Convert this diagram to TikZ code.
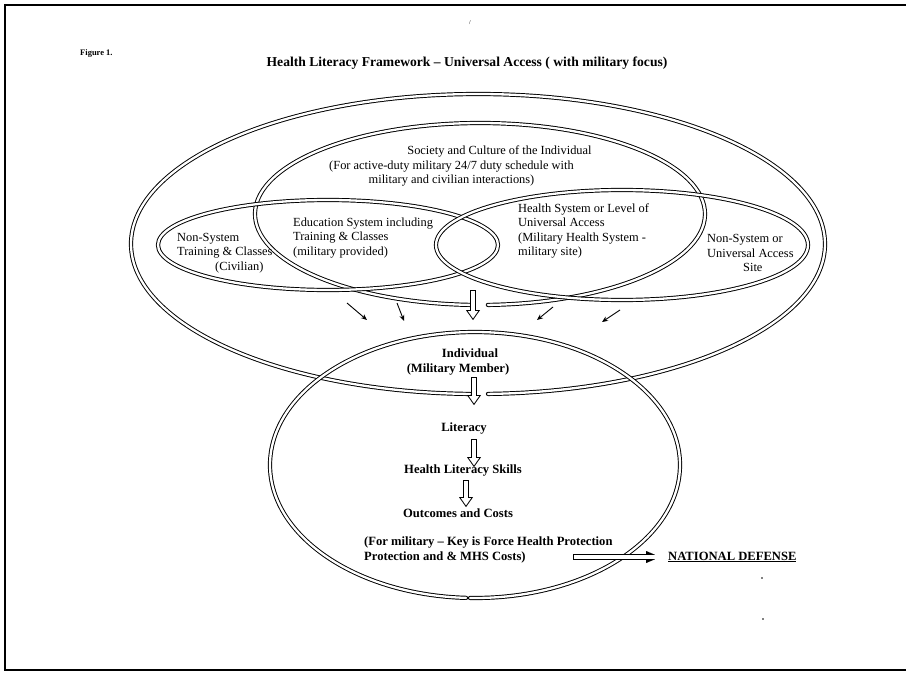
\documentclass[tikz,border=0pt]{standalone}
\usepackage{fontspec}
\setmainfont{Liberation Serif}
\usetikzlibrary{arrows.meta,calc}
\tikzset{
  dbl/.style={draw=black, line width=0.95pt, double=white, double distance=2.3pt},
  dblgap/.style={dbl, line cap=round},
  txt/.style={font=\fontsize{12.4}{14.5}\selectfont, inner sep=0pt, align=left},
  btxt/.style={font=\bfseries\fontsize{12.6}{15}\selectfont, inner sep=0pt},
  hollow/.style={line width=6pt, -{Triangle[length=10pt,width=14pt,line width=0.01pt]},
    postaction={draw=white, line width=4pt, -{Triangle[length=7.26pt,width=10.2pt,line width=0.01pt]}, shorten >=1.74pt, shorten <=1pt}},
  hollowh/.style={line width=6pt, -{Triangle[length=14pt,width=12pt,line width=0.01pt]},
    postaction={draw=white, line width=4pt, -{Triangle[length=10.46pt,width=8.97pt,line width=0.01pt]}, shorten >=2.54pt, shorten <=1pt}},
  thin/.style={line width=0.9pt, -{Stealth[length=6pt,width=5pt]}},
  frameline/.style={line width=1.6pt}
}
\begin{document}
\begin{tikzpicture}[x=1pt,y=1pt]
\useasboundingbox (0,0) rectangle (906,-677);
% frame
\draw[frameline, line width=2.4pt] (4,-5) -- (910,-5);
\draw[frameline] (5,-4) -- (5,-671);
\draw[frameline] (4,-670) -- (910,-670);
% scanning marks
\node[font=\fontsize{6}{6}\selectfont, inner sep=0pt] (mark) at (470,-23) {/};
\fill (762,-578) circle (0.8pt);
\fill (763,-619) circle (0.8pt);
% centres of ellipses
\coordinate (cA) at (478,-244);
\coordinate (cB) at (480,-214);
\coordinate (cC) at (328,-245);
\coordinate (cD) at (622,-245);
\coordinate (cE) at (475,-465);
% outer ellipse with gap
\draw[dblgap] ($(cA)+(271.65:347 and 150)$) arc[start angle=271.65, end angle=628.7, x radius=347, y radius=150];
% society ellipse with gap
\draw[dblgap] ($(cB)+(272.0:225 and 91)$) arc[start angle=272.0, end angle=627.45, x radius=225, y radius=91];
% left ellipse
\draw[dbl] (cC) ellipse[x radius=170, y radius=45];
% right ellipse
\draw[dbl] (cD) ellipse[x radius=186, y radius=55];
% individual ellipse with gap
\draw[dblgap] ($(cE)+(268.6:205 and 133)$) arc[start angle=268.6, end angle=627.5, x radius=205, y radius=133];
% texts
\node[font=\bfseries\fontsize{8.5}{10}\selectfont, inner sep=0pt, anchor=west] (fig) at (80,-53) {Figure 1.};
\node[font=\bfseries\fontsize{13.6}{15}\selectfont, inner sep=0pt] (title) at (467,-63) {Health Literacy Framework – Universal Access ( with military focus)};
\node[txt, align=center] (soc) at (451.5,-166) {\hspace*{96pt}Society and Culture of the Individual\\(For active-duty military 24/7 duty schedule with\\military and civilian interactions)};
\node[txt, anchor=west] (nsl) at (177,-253) {Non-System\\Training \& Classes\\\hspace*{38pt}(Civilian)};
\node[txt, anchor=west] (edu) at (293,-238) {Education System including\\Training \& Classes\\(military provided)};
\node[txt, anchor=west] (hs) at (518,-231) {Health System or Level of\\Universal Access\\(Military Health System -\\military site)};
\node[txt, anchor=west] (nsr) at (707,-253) {Non-System or\\Universal Access\\\hspace*{36pt}Site};
\node[btxt, align=center] (ind) at (458,-362) {\hspace*{24pt}Individual\\(Military Member)};
\node[btxt] (lit) at (464,-428) {Literacy};
\node[btxt] (hls) at (463,-470) {Health Literacy Skills};
\node[btxt] (out) at (458,-513) {Outcomes and Costs};
\node[btxt, align=left, anchor=west] (mil) at (364,-550) {(For military – Key is Force Health Protection\\Protection and \& MHS Costs)};
\node[btxt, anchor=west] (nd) at (668,-557) {\underline{NATIONAL DEFENSE}};
% arrow end points
\coordinate (h1s) at (473,-290);
\coordinate (h1e) at (473,-320);
\coordinate (h2s) at (474,-377);
\coordinate (h2e) at (474,-405);
\coordinate (h3s) at (474,-439);
\coordinate (h3e) at (474,-467);
\coordinate (h4s) at (466,-480);
\coordinate (h4e) at (466,-507);
\coordinate (h5s) at (573,-557);
\coordinate (s1s) at (347,-303); \coordinate (s1e) at (367,-320);
\coordinate (s2s) at (397,-303); \coordinate (s2e) at (404,-321);
\coordinate (s3s) at (553,-307); \coordinate (s3e) at (537,-320);
\coordinate (s4s) at (620,-310); \coordinate (s4e) at (602,-322);
% hollow arrows
\draw[hollow] (h1s) -- (h1e);
\draw[hollow] (h2s) -- (h2e);
\draw[hollow] (h3s) -- (h3e);
\draw[hollow] (h4s) -- (h4e);
\draw[hollowh, shorten >=8pt] (h5s) -- (nd.west);
% small arrows
\draw[thin] (s1s) -- (s1e);
\draw[thin] (s2s) -- (s2e);
\draw[thin] (s3s) -- (s3e);
\draw[thin] (s4s) -- (s4e);
\end{tikzpicture}
\end{document}
